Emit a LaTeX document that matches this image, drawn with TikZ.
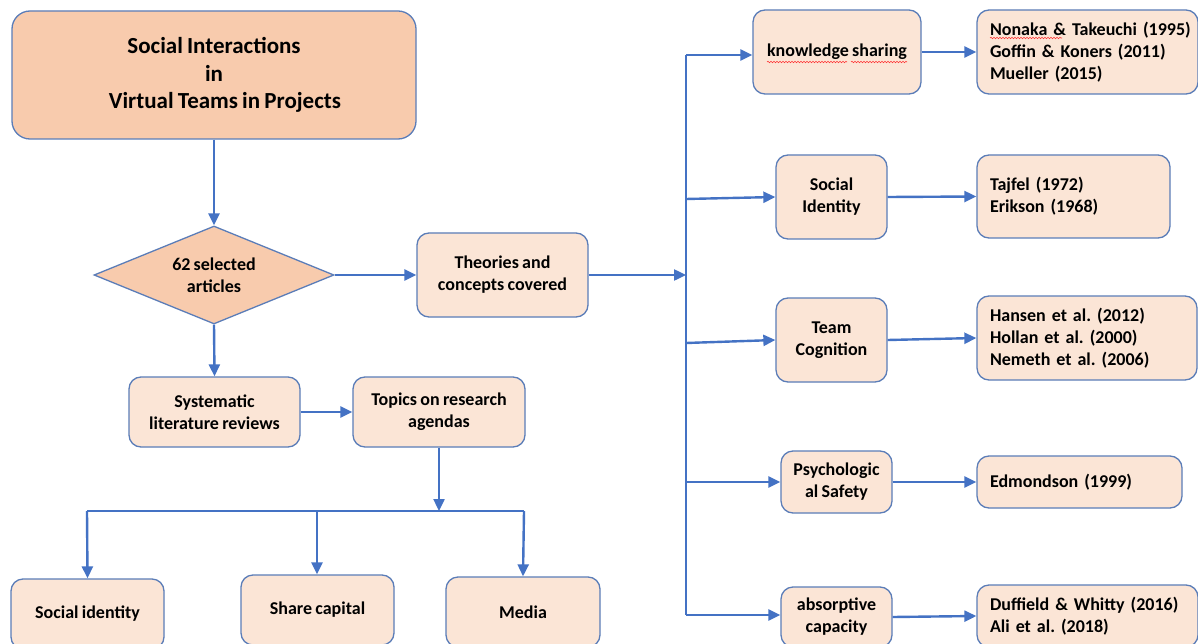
\documentclass[tikz,border=0pt]{standalone}
\usepackage{fontspec}
\setmainfont[WordSpace=0.8]{Carlito}
\frenchspacing
\usetikzlibrary{shapes.geometric,arrows.meta,decorations.pathmorphing}
\definecolor{peach}{HTML}{F8CBAD}
\definecolor{lightpeach}{HTML}{FBE5D6}
\definecolor{edge}{HTML}{5B7DB8}
\definecolor{arrowblue}{HTML}{4472C4}
\tikzset{
  box/.style={draw=edge, line width=1.3pt, fill=lightpeach, rounded corners=12pt,
    align=center, font=\fontsize{18}{22}\selectfont\bfseries, inner sep=2pt},
  refbox/.style={draw=edge, line width=1.3pt, fill=lightpeach, rounded corners=12pt,
    align=left, font=\fontsize{18}{22}\selectfont\bfseries, inner xsep=13pt, inner ysep=2pt},
  conn/.style={draw=arrowblue, line width=2.4pt, -{Triangle[length=12pt,width=11pt]}},
  bus/.style={draw=arrowblue, line width=2.4pt},
  squig/.style={draw=red!80, line width=0.6pt, decorate, decoration={snake, segment length=3pt, amplitude=0.7pt}}
}
\begin{document}
\begin{tikzpicture}[x=1pt,y=-1pt]
\useasboundingbox (0,0) rectangle (1198,644);
\clip (0,0) rectangle (1198,644);
\fill[white] (0,0) rectangle (1198,644);

% left column
\node[box, fill=peach, rounded corners=18pt, minimum width=404pt, minimum height=128pt,
  font=\fontsize{23}{27.5}\selectfont\bfseries] (title) at (214,75)
  {Social Interactions\\in\\\hspace*{22pt}Virtual Teams in Projects};
\node[diamond, aspect=2.45, draw=edge, line width=1.3pt, fill=peach, inner sep=0pt,
  minimum width=240pt, minimum height=98pt, align=center,
  font=\fontsize{18}{22}\selectfont\bfseries] (dia) at (214,275) {62 selected\\articles};
\node[box, minimum width=171pt, minimum height=84pt] (theo) at (502.5,275) {Theories and\\concepts covered};
\node[box, minimum width=171pt, minimum height=70pt] (slr) at (214.5,412) {Systematic\\literature reviews};
\node[box, minimum width=172pt, minimum height=70pt] (topics) at (439,412) {Topics on research\\agendas};
\node[box, minimum width=153pt, minimum height=70pt] (sid) at (87.5,614) {Social identity};
\node[box, minimum width=153pt, minimum height=70pt] (scap) at (317.5,610) {Share capital};
\node[box, minimum width=154pt, minimum height=70pt] (media) at (523,612) {Media};

% right column
\node[box, minimum width=168pt, minimum height=84pt] (ks) at (837,52) {knowledge sharing};
\node[box, minimum width=111pt, minimum height=84pt] (si) at (831.5,197) {Social\\Identity};
\node[box, minimum width=111pt, minimum height=84pt] (tc) at (831.5,340) {Team\\Cognition};
\node[box, minimum width=111pt, minimum height=62pt] (ps) at (836.5,482) {Psychologic\\al Safety};
\node[box, minimum width=111pt, minimum height=60pt] (ac) at (836.5,617) {absorptive\\capacity};

\node[refbox, text width=195pt, minimum height=84pt] (r1) at (1087.5,52)
  {\mbox{Nonaka \& Takeuchi (1995)}\\\mbox{Goffin \& Koners (2011)}\\Mueller (2015)};
\node[refbox, text width=167pt, minimum height=83pt] (r2) at (1073.5,196.5)
  {Tajfel (1972)\\Erikson (1968)};
\node[refbox, text width=194pt, minimum height=84pt] (r3) at (1087,338)
  {\mbox{Hansen et al. (2012)}\\\mbox{Hollan et al. (2000)}\\\mbox{Nemeth et al. (2006)}};
\node[refbox, text width=179pt, minimum height=52pt] (r4) at (1079.5,482)
  {Edmondson (1999)};
\node[refbox, text width=195pt, minimum height=62pt] (r5) at (1087.5,616)
  {\mbox{Duffield \& Whitty (2016)}\\\mbox{Ali et al. (2018)}};

% spell-check marks
\draw[squig] (767,62) -- (847,62);
\draw[squig] (851,62) -- (907,62);
\draw[squig] (990,38) -- (1062,38);

% coordinates
\coordinate (vb) at (686,275);
\coordinate (vtop) at (686,55);
\coordinate (vbot) at (686,615);
\coordinate (b2) at (686,199);
\coordinate (b3) at (686,343);
\coordinate (b4) at (686,482);
\coordinate (hb) at (439,511);
\coordinate (hl) at (87,511);
\coordinate (hm) at (317,511);
\coordinate (hr) at (524,511);

% connectors left
\draw[conn] (title.south) -- (dia.north);
\draw[conn] (dia.east) -- (theo.west);
\draw[conn] (theo.east) -- (vb);
\draw[conn] (dia.south) -- (slr.north);
\draw[conn] (slr.east) -- (topics.west);
\draw[conn] (topics.south) -- (hb);
\draw[bus] (hl) -- (hr);
\draw[conn] (hl) -- (sid.north);
\draw[conn] (hm) -- (scap.north -| hm);
\draw[conn] (hr) -- (media.north);

% bus right
\draw[bus] (vtop) -- (vbot);
\draw[conn] (vtop) -- (ks.west |- vtop);
\draw[conn] (b2) -- (si.west);
\draw[conn] (b3) -- (tc.west);
\draw[conn] (b4) -- (ps.west);
\draw[conn] (vbot) -- (ac.west |- vbot);

\draw[conn] (ks.east) -- (r1.west);
\draw[conn] (si.east) -- (r2.west);
\draw[conn] (tc.east) -- (r3.west);
\draw[conn] (ps.east) -- (r4.west);
\draw[conn] (ac.east) -- (r5.west);
\end{tikzpicture}
\end{document}
